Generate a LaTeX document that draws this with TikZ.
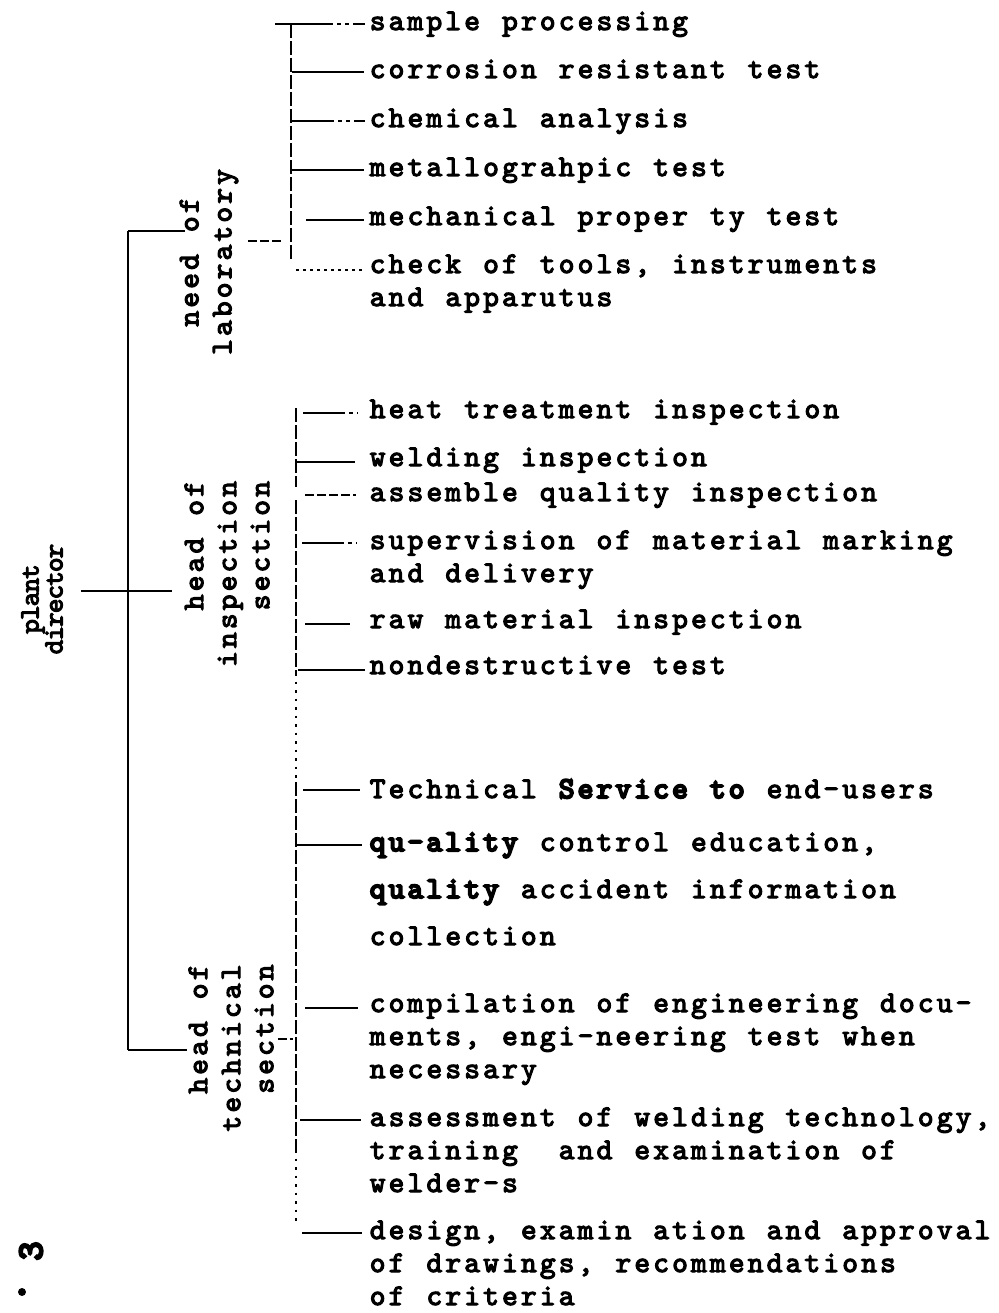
\documentclass[tikz,border=0pt]{standalone}
\usepackage{fontspec}
\newfontfamily\tw{lmmono10-regular.otf}[FakeBold=3.8]
\newfontfamily\twb{lmmono10-regular.otf}[FakeBold=7]
\ExplSyntaxOn
\NewDocumentCommand\mono{O{18.9pt}m}{\str_map_inline:nn {#2} {\makebox[#1][c]{##1}}}
\ExplSyntaxOff
\newcommand\monosp{\hspace*{18.9pt}}
\begin{document}
\begin{tikzpicture}[x=1pt,y=-1pt,
  item/.style={anchor=base west, inner sep=0pt, text width=700pt, align=left, font=\fontsize{30}{33}\tw},
  hlabel/.style={rotate=90, inner sep=0pt, font=\fontsize{30}{33}\tw},
  pdlabel/.style={rotate=90, inner sep=0pt, align=center, font=\fontsize{28}{24}\tw},
  bar/.style={line width=2.9pt},
  tk/.style={line width=2.7pt},
  brk/.style={line width=2.5pt, dash pattern=on 14pt off 3pt},
  dotln/.style={line width=2pt, dash pattern=on 2.5pt off 6pt},
  tkmix/.style={line width=2.7pt, dash pattern=on 42pt off 4pt on 4pt off 4pt on 4pt off 4pt},
  tkdash/.style={line width=2.5pt, dash pattern=on 9pt off 3pt},
  tkdot/.style={line width=2pt, dash pattern=on 3pt off 4pt}
]
\fill[white] (0,0) rectangle (998,1313);
\useasboundingbox (0,0) rectangle (998,1313);

% ---- labels of the heads
\node[pdlabel] (pd) at (42,599) {\mono[13.7pt]{plant}\\\mono[13.7pt]{director}};
\node[hlabel, align=center] (nl) at (209,262) {\mono{need of}\\\mono{laboratory}};
\node[hlabel, align=right] (hi) at (227,574) {\mono{head of}\\\mono{inspection}\\\mono{section}};
\node[hlabel, align=right] (ht) at (231,1048) {\mono{head of}\\\mono{technical}\\\mono{section}};

% ---- items
\node[item] (i1) at (368,30) {\mono{sample processing}};
\node[item] (i2) at (368,78) {\mono{corrosion resistant test}};
\node[item] (i3) at (368,127) {\mono{chemical analysis}};
\node[item] (i4) at (368,176) {\mono{metallograhpic test}};
\node[item] (i5) at (368,225) {\mono{mechanical proper ty test}};
\node[item] (i6) at (368,273) {\mono{check of tools, instruments}\\\mono{and apparutus}};
\node[item] (i7) at (368,418) {\mono{heat treatment inspection}};
\node[item] (i8) at (368,466) {\mono{welding inspection}};
\node[item] (i9) at (368,501) {\mono{assemble quality inspection}};
\node[item] (i10) at (368,549) {\mono{supervision of material marking}\\\mono{and delivery}};
\node[item] (i11) at (368,628) {\mono{raw material inspection}};
\node[item] (i12) at (368,674) {\mono{nondestructive test}};
\node[item] (i13) at (368,798) {\mono{Technical}\monosp{\twb\mono{Service}\monosp\mono{to}}\monosp\mono{end-users}};
\node[item] (i14) at (368,851) {{\twb\mono{qu-ality}}\monosp\mono{control education,}\\[14pt]{\twb\mono{quality}}\monosp\mono{accident information}\\[14pt]\mono{collection}};
\node[item] (i15) at (368,1012) {\mono{compilation of engineering docu-}\\\mono{ments, engi-neering test when}\\\mono{necessary}};
\node[item] (i16) at (368,1126) {\mono{assessment of welding technology,}\\\mono{training}\monosp\monosp\mono{and examination of}\\\mono{welder-s}};
\node[item] (i17) at (368,1239) {\mono{design, examin ation and approval}\\\mono{of drawings, recommendations}\\\mono{of criteria}};

% ---- main bracket of the plant director
\coordinate (mT) at (128,231);
\coordinate (jm) at (128,591);
\coordinate (mB) at (128,1050);
\draw[bar] (mT) -- (mB);
\draw[bar, shorten >=-5pt] (mT) -- (mT -| nl.north);
\draw[bar, shorten <=18pt, shorten >=12pt] (jm -| pd.south) -- (jm -| hi.north);
\draw[bar, shorten >=1pt] (mB) -- (mB -| ht.north);

% ---- laboratory bracket
\coordinate (lT) at (291,24);
\coordinate (lB) at (291,262);
\coordinate (lS) at (275,24);
\draw[brk] (lT) -- (lB);
\draw[tk] (lS) -- (lT);
\coordinate (lC) at (281,241);
\draw[tkdash, shorten <=10pt] (lC -| nl.south) -- (lC);
\draw[tkmix] (lT) -- ([xshift=-3pt]lT -| i1.west);
\coordinate (t2) at (292,72);
\draw[tk] (t2) -- ([xshift=-4pt]t2 -| i2.west);
\coordinate (t3) at (292,121);
\draw[tkmix] (t3) -- ([xshift=-3pt]t3 -| i3.west);
\coordinate (t4) at (292,170);
\draw[tk] (t4) -- ([xshift=-4pt]t4 -| i4.west);
\coordinate (t5) at (306,220);
\draw[tk] (t5) -- ([xshift=-4pt]t5 -| i5.west);
\coordinate (t6) at (296,270);
\draw[tkdot] (t6) -- ([xshift=-4pt]t6 -| i6.west);

% ---- inspection and technical bracket
\draw[brk] (296,408) -- (296,487);
\draw[brk] (296,500) -- (296,673);
\draw[dotln] (296,673) -- (296,782);
\draw[brk] (296,782) -- (296,1150);
\draw[dotln] (296,1150) -- (296,1225);
\coordinate (tC) at (296,1039);
\draw[tkdash, shorten <=4pt, shorten >=3pt] (tC -| ht.south) -- (tC);

\coordinate (t7) at (303,413);
\draw[tkmix] (t7) -- ([xshift=-10pt]t7 -| i7.west);
\coordinate (t8) at (296,462);
\draw[tk] (t8) -- ([xshift=-13pt]t8 -| i8.west);
\coordinate (t9) at (305,495);
\draw[tkdash] (t9) -- ([xshift=-12pt]t9 -| i9.west);
\coordinate (t10) at (302,543);
\draw[tkmix] (t10) -- ([xshift=-11pt]t10 -| i10.west);
\coordinate (t11) at (305,624);
\draw[tk] (t11) -- ([xshift=-18pt]t11 -| i11.west);
\coordinate (t12) at (298,670);
\draw[tk] (t12) -- ([xshift=-3pt]t12 -| i12.west);
\coordinate (t13) at (303,790);
\draw[tk] (t13) -- ([xshift=-8pt]t13 -| i13.west);
\coordinate (t14) at (296,845);
\draw[tk] (t14) -- ([xshift=-6pt]t14 -| i14.west);
\coordinate (t15) at (305,1008);
\draw[tk] (t15) -- ([xshift=-10pt]t15 -| i15.west);
\coordinate (t16) at (300,1120);
\draw[tk] (t16) -- ([xshift=-7pt]t16 -| i16.west);
\coordinate (t17) at (302,1233);
\draw[bar] (t17) -- ([xshift=-6pt]t17 -| i17.west);

% ---- page mark
\node[rotate=90, inner sep=0pt, font=\fontsize{36}{36}\twb] (pg) at (31,1251) {3};
\fill (22,1292) circle (4pt);
\end{tikzpicture}
\end{document}
